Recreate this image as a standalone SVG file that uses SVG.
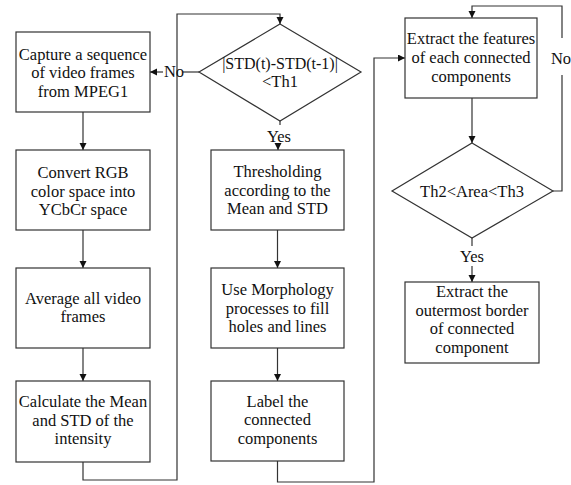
<svg xmlns="http://www.w3.org/2000/svg" width="571" height="485" viewBox="0 0 571 485">
<style>
.box{fill:#fff;stroke:#333;stroke-width:1.2}
.ln{fill:none;stroke:#333;stroke-width:1.2}
text{font-family:"Liberation Serif","Times New Roman",serif;font-size:16.5px;fill:#111;text-anchor:middle}
</style>
<defs>
<marker id="ah" markerUnits="userSpaceOnUse" markerWidth="8" markerHeight="8" refX="7" refY="3.5" orient="auto">
<path d="M0,0 L7,3.5 L0,7 z" fill="#111"/>
</marker>
</defs>
<rect width="571" height="485" fill="#fff"/>
<g id="connectors">
<line class="ln" x1="83" y1="112" x2="83" y2="150" marker-end="url(#ah)"/>
<line class="ln" x1="83" y1="230" x2="83" y2="268" marker-end="url(#ah)"/>
<line class="ln" x1="83" y1="348" x2="83" y2="381" marker-end="url(#ah)"/>
<polyline class="ln" points="83,462 83,480 177,480 177,14 280,14 280,24" marker-end="url(#ah)"/>
<line class="ln" x1="199" y1="72" x2="183" y2="72"/>
<line class="ln" x1="163" y1="72" x2="150" y2="72" marker-end="url(#ah)"/>
<line class="ln" x1="280" y1="121" x2="280" y2="125"/>
<line class="ln" x1="278" y1="145" x2="278" y2="150" marker-end="url(#ah)"/>
<line class="ln" x1="277.5" y1="230" x2="277.5" y2="268" marker-end="url(#ah)"/>
<line class="ln" x1="277.5" y1="348" x2="277.5" y2="381" marker-end="url(#ah)"/>
<polyline class="ln" points="277.5,461 277.5,482 374,482 374,58 405,58" marker-end="url(#ah)"/>
<line class="ln" x1="472" y1="98" x2="472" y2="143" marker-end="url(#ah)"/>
<polyline class="ln" points="553,191 562,191 562,6 472,6 472,18" marker-end="url(#ah)"/>
<rect x="550" y="38" width="21" height="37" fill="#fff"/>
<text x="561" y="63.5">No</text>
<text x="174" y="77">No</text>
<line class="ln" x1="472" y1="238" x2="472" y2="246"/>
<text x="472" y="262">Yes</text>
<line class="ln" x1="472" y1="266" x2="472" y2="282" marker-end="url(#ah)"/>
<text x="279" y="142">Yes</text>
</g>
<g id="n1"><rect class="box" x="16" y="32" width="134" height="80"/>
<text x="83" y="59.5">Capture a sequence</text><text x="83" y="78">of  video frames</text><text x="83" y="96.5">from MPEG1</text></g>
<g id="n2"><rect class="box" x="16" y="150" width="134" height="80"/>
<text x="83" y="178">Convert RGB</text><text x="83" y="196.5">color space into</text><text x="83" y="215">YCbCr space</text></g>
<g id="n3"><rect class="box" x="16" y="268" width="134" height="80"/>
<text x="83" y="303.5">Average all video</text><text x="83" y="322">frames</text></g>
<g id="n4"><rect class="box" x="16" y="381" width="134" height="81"/>
<text x="83" y="407">Calculate the Mean</text><text x="83" y="425.5">and STD of the</text><text x="83" y="444">intensity</text></g>
<g id="d1"><polygon class="box" points="280,24 361,72 280,121 199,72"/>
<text x="280" y="68.5" style="font-size:16px">|STD(t)-STD(t-1)|</text><text x="280" y="87">&lt;Th1</text></g>
<g id="n5"><rect class="box" x="211" y="150" width="133" height="80"/>
<text x="277.5" y="177">Thresholding</text><text x="277.5" y="195.5">according to  the</text><text x="277.5" y="214">Mean and STD</text></g>
<g id="n6"><rect class="box" x="211" y="268" width="133" height="80"/>
<text x="277.5" y="295">Use Morphology</text><text x="277.5" y="313.5">processes to fill</text><text x="277.5" y="332">holes and lines</text></g>
<g id="n7"><rect class="box" x="211" y="381" width="133" height="80"/>
<text x="277.5" y="406.5">Label the</text><text x="277.5" y="425">connected</text><text x="277.5" y="443.5">components</text></g>
<g id="n8"><rect class="box" x="405" y="18" width="132" height="80"/>
<text x="471" y="43.5">Extract the features</text><text x="471" y="62.5">of each connected</text><text x="471" y="81.5">components</text></g>
<g id="d2"><polygon class="box" points="472,143 553,191 472,238 392,191"/>
<text x="472" y="196.5">Th2&lt;Area&lt;Th3</text></g>
<g id="n9"><rect class="box" x="405" y="282" width="134" height="81"/>
<text x="472" y="297">Extract the</text><text x="472" y="315.5">outermost border</text><text x="472" y="334">of connected</text><text x="472" y="353">component</text></g>
</svg>
